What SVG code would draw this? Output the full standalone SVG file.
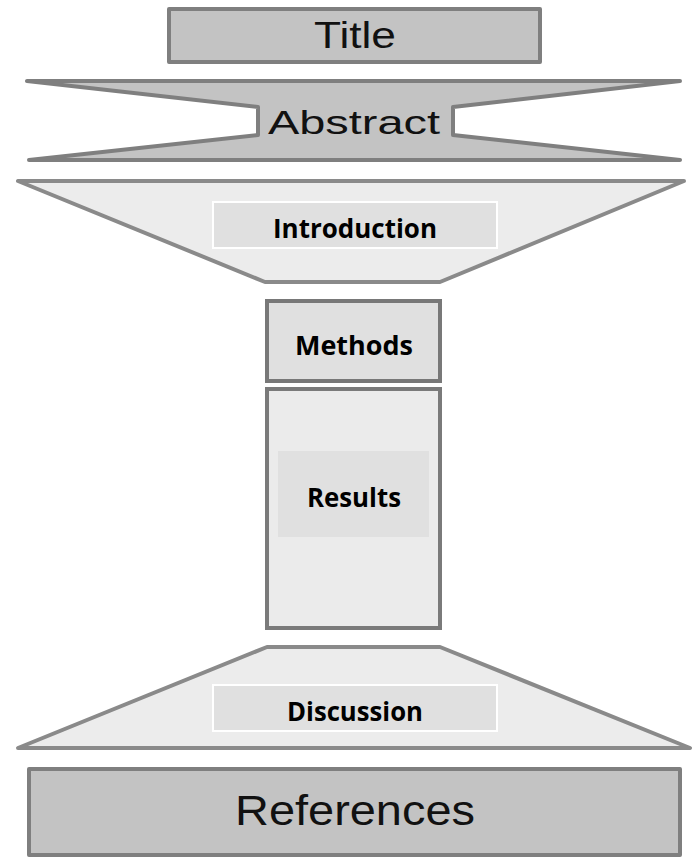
<svg xmlns="http://www.w3.org/2000/svg" width="699" height="859" viewBox="0 0 699 859">
<style>
.dark{fill:#c3c3c3;stroke:#7f7f7f;stroke-width:4;stroke-linejoin:round}
.light{fill:#ececec;stroke:#8a8a8a;stroke-width:4;stroke-linejoin:round}
.lbl{fill:#e0e0e0;stroke:#ffffff;stroke-width:2}
.ta{font-family:"Liberation Sans",Arial,sans-serif;fill:#111;text-anchor:middle}
.tb{font-family:"Open Sans","Noto Sans",sans-serif;font-weight:bold;fill:#000;text-anchor:middle}
</style>
<rect width="699" height="859" fill="#ffffff"/>
<g id="title">
<rect class="dark" x="169" y="9" width="371" height="53"/>
<text class="ta" x="355" y="48" font-size="36" textLength="82" lengthAdjust="spacingAndGlyphs">Title</text>
</g>
<g id="abstract">
<polygon class="dark" points="27,81 680,81 453,107 453,135 680,160 29,160 258,135 258,107"/>
<text class="ta" x="354" y="134" font-size="33" textLength="172" lengthAdjust="spacingAndGlyphs">Abstract</text>
</g>
<g id="introduction">
<polygon class="light" points="18,181 684,181 440,282 265,282"/>
<rect class="lbl" x="213" y="202" width="284" height="46"/>
<text class="tb" x="355" y="238" font-size="27" textLength="164" lengthAdjust="spacingAndGlyphs">Introduction</text>
</g>
<g id="methods">
<rect x="267" y="301" width="173" height="80" fill="#e0e0e0" stroke="#787878" stroke-width="4"/>
<text class="tb" x="354" y="355" font-size="27" textLength="118" lengthAdjust="spacingAndGlyphs">Methods</text>
</g>
<g id="results">
<rect x="267" y="389" width="173" height="239" fill="#ebebeb" stroke="#7a7a7a" stroke-width="4"/>
<rect x="278" y="451" width="151" height="86" fill="#e0e0e0"/>
<text class="tb" x="354" y="507" font-size="27" textLength="94" lengthAdjust="spacingAndGlyphs">Results</text>
</g>
<g id="discussion">
<polygon class="light" points="267,647 440,647 690,748 18,748"/>
<rect class="lbl" x="213" y="685" width="284" height="46"/>
<text class="tb" x="355" y="721" font-size="27" textLength="136" lengthAdjust="spacingAndGlyphs">Discussion</text>
</g>
<g id="references">
<rect class="dark" x="29" y="769" width="651" height="86"/>
<text class="ta" x="355" y="825" font-size="42" textLength="240" lengthAdjust="spacingAndGlyphs">References</text>
</g>
<g id="connectors"></g>
</svg>
